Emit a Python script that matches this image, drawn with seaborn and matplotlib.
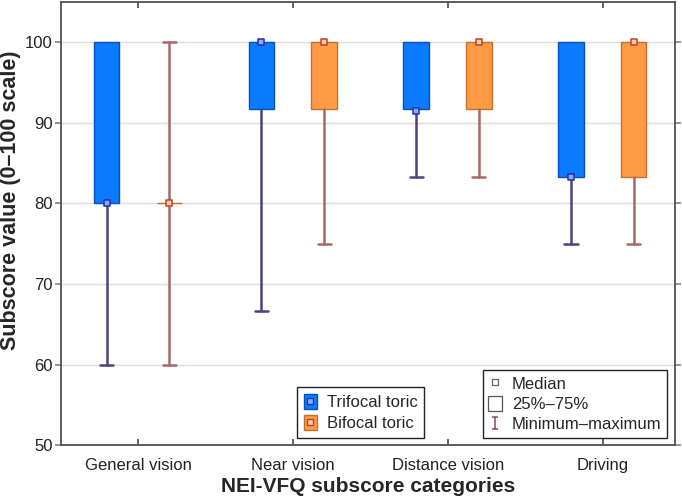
import numpy as np
import pandas as pd
import matplotlib
matplotlib.use("Agg")
import matplotlib.pyplot as plt
import seaborn as sns
from matplotlib.patches import Patch
from matplotlib.lines import Line2D
from matplotlib.path import Path

categories = ["General vision", "Near vision", "Distance vision", "Driving"]
groups = ["Trifocal toric", "Bifocal toric"]

tri_min = [60, 66.7, 83.3, 75]
tri_q1 = [80, 91.7, 91.7, 83.3]
tri_med = [80, 100, 91.5, 83.3]
tri_q3 = [100, 100, 100, 100]
tri_max = [100, 100, 100, 100]

bi_min = [60, 75, 83.3, 75]
bi_q1 = [80, 91.7, 91.7, 83.3]
bi_med = [80, 100, 100, 100]
bi_q3 = [80, 100, 100, 100]
bi_max = [100, 100, 100, 100]

yticks = [50, 60, 70, 80, 90, 100]

sns.set_theme(style="white")
plt.rcParams["font.family"] = ["Liberation Sans", "DejaVu Sans"]

fig = plt.figure(figsize=(6.82, 4.99), dpi=100)
ax = fig.add_axes([0.0894, 0.108, 0.901, 0.888])

styles = {
    "Trifocal toric": dict(face="#0a7bff", edge="#0a4fb8", whisk="#45457f",
                           medface="#7fb3ff", mededge="#2a2ab0", offset=-0.205),
    "Bifocal toric": dict(face="#ff9a45", edge="#c7702e", whisk="#a86868",
                          medface="#ffd2a8", mededge="#c0402a", offset=0.2),
}
data = {
    "Trifocal toric": (tri_min, tri_q1, tri_med, tri_q3, tri_max),
    "Bifocal toric": (bi_min, bi_q1, bi_med, bi_q3, bi_max),
}

x = np.arange(len(categories))
for g in groups:
    st = styles[g]
    mn, q1, md, q3, mx = data[g]
    stats = [dict(med=md[i], q1=q1[i], q3=q3[i], whislo=mn[i], whishi=mx[i], fliers=[])
             for i in range(len(categories))]
    res = ax.bxp(stats, positions=x + st["offset"], widths=0.165, patch_artist=True,
                 showfliers=False, capwidths=0.085, manage_ticks=False,
                 boxprops=dict(facecolor=st["face"], edgecolor=st["edge"], linewidth=1.0),
                 whiskerprops=dict(color=st["whisk"], linewidth=1.8),
                 capprops=dict(color=st["whisk"], linewidth=1.8),
                 medianprops=dict(linewidth=0, alpha=0))
    # hide caps that coincide with the box edge
    for i in range(len(categories)):
        if mx[i] == q3[i]:
            res["caps"][2 * i + 1].set_visible(False)
        if mn[i] == q1[i]:
            res["caps"][2 * i].set_visible(False)
    df = pd.DataFrame({"x": x + st["offset"], "median": md})
    sns.scatterplot(data=df, x="x", y="median", ax=ax, marker="s", s=22,
                    facecolor=st["medface"], edgecolor=st["mededge"], linewidth=1.1,
                    zorder=5, legend=False)

ax.set_xlim(-0.5, 3.47)
ax.set_ylim(50, 105)
ax.set_yticks(yticks)
ax.set_xticks(x)
ax.set_xticklabels(categories)
ax.yaxis.grid(True, color="#dcdcdc", linewidth=1.0)
ax.xaxis.grid(False)
ax.set_axisbelow(True)
for sp in ax.spines.values():
    sp.set_color("#505050")
    sp.set_linewidth(1.3)
ax.tick_params(axis="y", which="both", direction="out", length=4, color="#888888",
               left=True, right=True, labelsize=12, labelcolor="#222222", pad=2)
ax.tick_params(axis="x", which="both", direction="in", length=4, color="#505050",
               bottom=True, top=True, labelsize=12, labelcolor="#222222", pad=9)
ax.set_xlabel("NEI-VFQ subscore categories", fontsize=15, fontweight="bold", labelpad=3)
ax.set_ylabel("Subscore value (0–100 scale)", fontsize=15.5, fontweight="bold")
ax.yaxis.set_label_coords(-0.065, 0.553)

# legend 1: groups
h1 = []
for g in groups:
    st = styles[g]
    p = Patch(facecolor=st["face"], edgecolor=st["edge"])
    m = Line2D([], [], marker="s", linestyle="none", markersize=5,
               markerfacecolor=st["medface"], markeredgecolor=st["mededge"], markeredgewidth=1)
    h1.append((p, m))
leg1 = ax.legend(h1, groups, loc="lower left", bbox_to_anchor=(0.384, 0.016),
                 borderaxespad=0, fancybox=False, framealpha=1, edgecolor="#222222",
                 fontsize=12, handlelength=0.8, handleheight=1.0, handletextpad=0.6,
                 labelspacing=0.3, borderpad=0.4)
leg1.get_frame().set_linewidth(1.0)
ax.add_artist(leg1)

# legend 2: statistics
whisker_path = Path([(-0.5, -1), (0.5, -1), (0, -1), (0, 1), (-0.5, 1), (0.5, 1)],
                    [Path.MOVETO, Path.LINETO, Path.MOVETO, Path.LINETO, Path.MOVETO, Path.LINETO])
h2 = [
    Line2D([], [], marker="s", linestyle="none", markersize=4, markerfacecolor="white",
           markeredgecolor="#666666", markeredgewidth=0.9),
    Patch(facecolor="white", edgecolor="#555555", linewidth=0.9),
    Line2D([], [], marker=whisker_path, linestyle="none", markersize=9,
           markeredgecolor="#8a4a5a", markerfacecolor="none", markeredgewidth=1.1),
]
labels2 = ["Median", "25%–75%", "Minimum–maximum"]
leg2 = ax.legend(h2, labels2, loc="lower left", bbox_to_anchor=(0.686, 0.016),
                 borderaxespad=0, fancybox=False, framealpha=1, edgecolor="#222222",
                 fontsize=12, handlelength=0.8, handleheight=1.0, handletextpad=0.6,
                 labelspacing=0.25, borderpad=0.35)
leg2.get_frame().set_linewidth(1.0)

fig.savefig("out.png", dpi=100)
